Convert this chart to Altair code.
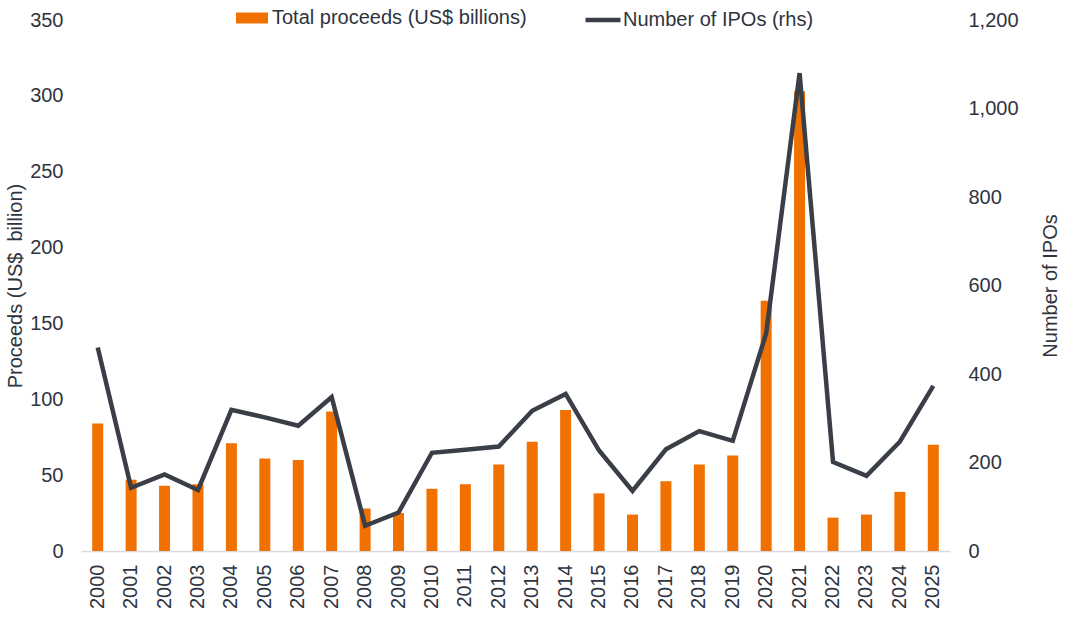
import altair as alt
import pandas as pd

years = [str(y) for y in range(2000, 2026)]
proceeds = [84, 47, 43, 44, 71, 61, 60, 92, 28, 25, 41, 44, 57, 72, 93, 38,
            24, 46, 57, 63, 165, 303, 22, 24, 39, 70]
ipos = [460, 143, 173, 138, 319, 302, 283, 348, 57, 87, 222, 229, 236, 317,
        355, 227, 136, 230, 271, 249, 492, 1080, 201, 170, 247, 373]

bar_label = "Total proceeds (US$ billions)"
line_label = "Number of IPOs (rhs)"

ORANGE = "#F07000"
DARK = "#393E47"
TEXT = "#2E3440"
FONT = "Liberation Sans"
FS = 20

df = pd.DataFrame({"year": years, "proceeds": proceeds, "ipos": ipos,
                   "bar_series": bar_label, "line_series": line_label})

x = alt.X("year:O", title=None,
          scale=alt.Scale(paddingInner=0.67, paddingOuter=0.335),
          axis=alt.Axis(labelAngle=-90, labelAlign="right", labelBaseline="middle",
                        labelPadding=13, ticks=False, tickSize=0,
                        domainColor="#D9D9DE", domainWidth=1.5))

bars = alt.Chart(df).mark_bar(size=11).encode(
    x=x,
    y=alt.Y("proceeds:Q", title="Proceeds (US$\u00a0 billion)",
            scale=alt.Scale(domain=[0, 350]),
            axis=alt.Axis(values=list(range(0, 351, 50)), grid=False, domain=False,
                          ticks=False, tickSize=0, labelPadding=18, titlePadding=4)),
    color=alt.Color("bar_series:N", title=None,
                    scale=alt.Scale(domain=[bar_label], range=[ORANGE]),
                    legend=alt.Legend(orient="none", legendX=161, legendY=-12,
                                      symbolType="M-1.6,-0.55H1.6V0.55H-1.6Z",
                                      symbolSize=400, symbolStrokeWidth=0,
                                      labelOffset=10)),
)

line = alt.Chart(df).mark_line(strokeWidth=4.5, strokeJoin="miter").encode(
    x=x,
    y=alt.Y("ipos:Q", title="Number of IPOs",
            scale=alt.Scale(domain=[0, 1200]),
            axis=alt.Axis(orient="right", values=list(range(0, 1201, 200)), format=",d",
                          grid=False, domain=False, ticks=False, tickSize=0,
                          labelPadding=18, titlePadding=42, titleAngle=270)),
    stroke=alt.Stroke("line_series:N", title=None,
                      scale=alt.Scale(domain=[line_label], range=[DARK]),
                      legend=alt.Legend(orient="none", legendX=502, legendY=-20,
                                        symbolType="stroke", symbolStrokeWidth=4.5,
                                        symbolSize=1225, labelOffset=0)),
)

chart = alt.layer(bars, line).resolve_scale(y="independent").properties(
    width=869, height=531,
    autosize="none",
    padding={"left": 81, "top": 20, "right": 120, "bottom": 67},
).configure_view(stroke=None).configure_axis(
    labelFont=FONT, titleFont=FONT, labelFontSize=FS, titleFontSize=FS,
    labelColor=TEXT, titleColor=TEXT, titleFontWeight="normal",
).configure_legend(
    labelFont=FONT, labelFontSize=FS, labelColor=TEXT, direction="horizontal",
    labelLimit=400,
)

chart.save("out.html", embed_options={"renderer": "svg", "actions": False})
